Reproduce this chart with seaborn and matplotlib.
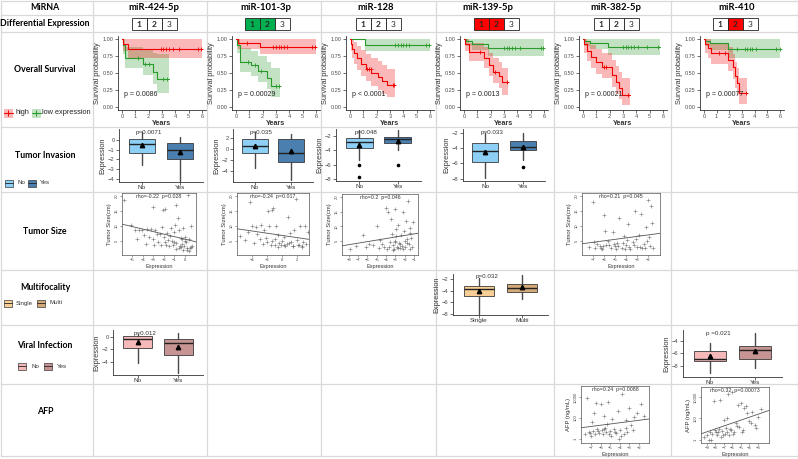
import numpy as np
import matplotlib
matplotlib.use("Agg")
import matplotlib.pyplot as plt
import seaborn as sns
from matplotlib.patches import Rectangle

# ---------------- data ----------------
mirnas = ["miR-424-5p", "miR-101-3p", "miR-128", "miR-139-5p", "miR-382-5p", "miR-410"]
row_labels = ["MiRNA", "Differential Expression", "Overall Survival", "Tumor Invasion",
              "Tumor Size", "Multifocality", "Viral Infection", "AFP"]
diff_marked = [[], [1, 2], [], [1, 2], [], [2]]
diff_sign = [0, -1, 0, 1, 0, 1]

# Kaplan-Meier steps (time, surv, lower, upper) and censor times
km_424_high = dict(t=[0, 0.1, 0.45, 6.0], s=[1, 0.93, 0.86, 0.86],
                   lo=[1, 0.82, 0.73, 0.73], up=[1, 1, 1, 1],
                   cens=[2.9, 3.1, 3.3, 3.5, 3.8, 4.3, 5.7, 5.95])
km_424_low = dict(t=[0, 0.05, 0.25, 1.6, 2.3, 2.6, 3.5], s=[1, 0.91, 0.73, 0.63, 0.52, 0.41, 0.41],
                  lo=[1, 0.78, 0.58, 0.47, 0.33, 0.21, 0.21], up=[1, 1, 0.88, 0.84, 0.8, 0.78, 0.78],
                  cens=[1.2, 1.7, 2.0, 3.1, 3.4])
km_101_high = dict(t=[0, 0.15, 1.8, 6.0], s=[1, 0.95, 0.89, 0.89],
                   lo=[1, 0.86, 0.78, 0.78], up=[1, 1, 1, 1],
                   cens=[0.8, 2.8, 3.0, 3.2, 3.4, 3.6, 3.8, 5.7, 5.95])
km_101_low = dict(t=[0, 0.05, 0.3, 1.15, 1.65, 2.3, 2.6, 3.3], s=[1, 0.92, 0.67, 0.62, 0.53, 0.42, 0.30, 0.30],
                  lo=[1, 0.8, 0.52, 0.46, 0.37, 0.26, 0.15, 0.15], up=[1, 1, 0.87, 0.83, 0.76, 0.66, 0.58, 0.58],
                  cens=[0.9, 1.4, 1.9, 3.0, 3.2])
km_128_high = dict(t=[0, 0.05, 0.15, 0.3, 0.5, 0.8, 1.2, 1.6, 2.1, 2.4, 2.8, 3.4],
                   s=[1, 0.93, 0.86, 0.79, 0.72, 0.64, 0.56, 0.50, 0.44, 0.38, 0.32, 0.32],
                   lo=[1, 0.82, 0.72, 0.63, 0.55, 0.46, 0.38, 0.31, 0.25, 0.19, 0.14, 0.14],
                   up=[1, 1, 1, 0.96, 0.9, 0.84, 0.78, 0.73, 0.68, 0.62, 0.56, 0.56],
                   cens=[1.3, 1.45, 1.55, 3.2, 3.3])
km_128_low = dict(t=[0, 1.1, 6.0], s=[1, 0.92, 0.92], lo=[1, 0.82, 0.82], up=[1, 1, 1],
                  cens=[3.4, 3.6, 3.8, 4.0, 4.2, 4.4, 5.7, 5.95])
km_139_high = dict(t=[0, 0.1, 0.4, 1.5, 1.9, 2.2, 2.6, 2.85, 3.3],
                   s=[1, 0.93, 0.81, 0.72, 0.62, 0.52, 0.45, 0.36, 0.36],
                   lo=[1, 0.82, 0.68, 0.57, 0.46, 0.35, 0.27, 0.17, 0.17],
                   up=[1, 1, 0.95, 0.88, 0.8, 0.72, 0.66, 0.57, 0.57],
                   cens=[1.2, 2.3, 3.2])
km_139_low = dict(t=[0, 0.15, 0.6, 1.8, 6.0], s=[1, 0.97, 0.93, 0.87, 0.87],
                  lo=[1, 0.9, 0.84, 0.75, 0.75], up=[1, 1, 1, 1, 1],
                  cens=[3.0, 3.2, 3.4, 3.6, 3.8, 4.2, 5.8, 5.95])
km_382_high = dict(t=[0, 0.1, 0.3, 0.6, 1.0, 1.4, 2.2, 2.5, 2.7, 2.95, 3.5],
                   s=[1, 0.93, 0.83, 0.74, 0.66, 0.59, 0.47, 0.36, 0.27, 0.18, 0.18],
                   lo=[1, 0.8, 0.68, 0.58, 0.49, 0.42, 0.29, 0.19, 0.11, 0.03, 0.03],
                   up=[1, 1, 0.97, 0.92, 0.86, 0.8, 0.7, 0.6, 0.52, 0.42, 0.42],
                   cens=[1.6, 1.75, 3.35])
km_382_low = dict(t=[0, 0.1, 0.5, 1.9, 5.8], s=[1, 0.97, 0.94, 0.88, 0.88],
                  lo=[1, 0.9, 0.85, 0.77, 0.77], up=[1, 1, 1, 1, 1],
                  cens=[3.0, 3.2, 3.4, 3.6, 3.8, 4.1, 4.8, 5.6])
km_410_high = dict(t=[0, 0.1, 0.3, 0.6, 1.9, 2.3, 2.45, 2.6, 2.8, 3.4],
                   s=[1, 0.93, 0.87, 0.79, 0.70, 0.59, 0.45, 0.35, 0.21, 0.21],
                   lo=[1, 0.8, 0.72, 0.63, 0.53, 0.41, 0.27, 0.17, 0.04, 0.04],
                   up=[1, 1, 1, 0.95, 0.88, 0.78, 0.66, 0.57, 0.43, 0.43],
                   cens=[1.2, 1.7, 3.3])
km_410_low = dict(t=[0, 0.1, 0.5, 1.9, 6.0], s=[1, 0.97, 0.94, 0.85, 0.85],
                  lo=[1, 0.9, 0.84, 0.72, 0.72], up=[1, 1, 1, 1, 1],
                  cens=[2.6, 3.2, 3.4, 3.6, 3.8, 4.1, 5.7, 5.95])
km_high = [km_424_high, km_101_high, km_128_high, km_139_high, km_382_high, km_410_high]
km_low = [km_424_low, km_101_low, km_128_low, km_139_low, km_382_low, km_410_low]
os_pvals = ["p = 0.0086", "p = 0.00029", "p < 0.0001", "p = 0.0013", "p = 0.00021", "p = 0.00077"]

# box summaries: whisker low, q1, median, q3, whisker high, mean, outliers
inv_424 = dict(lo=[-2.6, -4.2], q1=[-1.33, -1.95], med=[-0.43, -1.05], q3=[0.1, -0.35],
               hi=[0.8, 0.3], mean=[-0.55, -1.25], out=[[], []], p="p=0.0071")
inv_101 = dict(lo=[-3.5, -5.6], q1=[-0.7, -2.4], med=[0.55, -0.7], q3=[1.8, 1.8],
               hi=[3.1, 2.7], mean=[0.6, -0.45], out=[[], []], p="p=0.035")
inv_128 = dict(lo=[-5.3, -4.0], q1=[-3.73, -2.93], med=[-2.8, -2.4], q3=[-2.27, -2.13],
               hi=[-1.2, -1.2], mean=[-3.2, -2.67], out=[[-6.1, -7.8], [-6.0]], p="p=0.048")
inv_139 = dict(lo=[-7.9, -5.5], q1=[-5.8, -4.3], med=[-4.4, -3.9], q3=[-3.3, -3.1],
               hi=[-2.0, -2.0], mean=[-4.5, -3.8], out=[[], [-6.5]], p="p=0.033")
multi_139 = dict(lo=[-8.0, -5.4], q1=[-5.0, -4.2], med=[-3.8, -3.5], q3=[-3.2, -2.8],
                 hi=[-1.8, -1.3], mean=[-4.0, -3.4], out=[[], []], p="p=0.032")
viral_424 = dict(lo=[-4.2, -5.8], q1=[-1.8, -2.9], med=[-0.4, -0.9], q3=[0.1, -0.4],
                 hi=[0.5, 0.7], mean=[-0.8, -1.6], out=[[], []], p="p=0.012")
viral_410 = dict(lo=[-9.2, -8.4], q1=[-7.2, -6.9], med=[-6.9, -5.5], q3=[-5.6, -4.8],
                 hi=[-4.3, -2.7], mean=[-6.5, -5.6], out=[[], []], p="p =0.021")
yes_no = ["No", "Yes"]
focality = ["Single", "Multi"]

# tumor size (cm) vs expression
ts_424_x = [-5.8, -5.1, -4.7, -4.5, -4.3, -4.1, -3.9, -3.7, -3.6, -3.4, -3.2, -3.0, -3.0, -2.9, -2.8,
            -2.6, -2.5, -2.4, -2.3, -2.2, -2.1, -2.0, -1.9, -1.9, -1.8, -1.7, -1.6, -1.5, -1.4, -1.3,
            -1.2, -1.1, -1.0, -0.9, -0.8, -0.8, -0.7, -0.6, -0.5, -0.4, -0.3, -0.2, -0.1, 0.0, 0.1,
            0.2, 0.3, 0.4, 0.5, 0.6, 0.7, -0.6, -0.4, -0.2, 0.0, 0.2, 0.4, 0.6, -1.0, -0.8, -0.3]
ts_424_y = [18.5, 10.2, 8.5, 5.5, 8.6, 8.5, 7.0, 4.0, 9.0, 6.2, 9.1, 16.2, 5.5, 3.6, 8.8,
            7.3, 4.6, 7.2, 3.5, 9.8, 15.3, 6.3, 15.6, 4.8, 3.8, 7.8, 5.2, 3.3, 6.5, 9.2,
            4.9, 3.7, 7.9, 10.2, 17.0, 4.4, 12.8, 8.8, 3.4, 6.1, 4.1, 9.2, 3.2, 6.4, 4.6,
            2.0, 20.3, 5.6, 2.8, 10.0, 3.3, 2.5, 3.0, 2.1, 4.9, 2.6, 1.8, 2.9, 4.6, 2.2, 5.8]
ts_101_x = [-5.6, -5.0, -4.6, -4.3, -4.0, -3.8, -3.5, -3.3, -3.0, -2.8, -2.6, -2.4, -2.2, -2.0, -1.9,
            -1.7, -1.5, -1.3, -1.2, -1.0, -0.8, -0.6, -0.4, -0.2, 0.0, 0.2, 0.4, 0.6, 0.8, 1.0,
            1.2, 1.4, 1.6, 1.8, 2.0, 2.2, 2.4, 2.6, 2.8, 3.0, 3.2, 3.4, -1.4, -0.9, -0.5, 0.3,
            0.9, 1.5, 2.1, 2.7]
ts_101_y = [6.8, 5.2, 8.0, 18.1, 10.0, 4.4, 9.8, 7.2, 5.6, 10.2, 4.1, 8.5, 6.0, 4.8, 15.1,
            10.0, 3.8, 15.4, 16.0, 5.5, 9.9, 7.1, 4.2, 3.6, 5.0, 6.4, 3.3, 4.0, 13.0, 7.5,
            4.6, 3.4, 8.8, 19.0, 5.4, 3.8, 10.0, 3.2, 4.5, 10.0, 3.9, 8.0, 4.9, 3.5, 3.1, 3.7,
            4.3, 3.2, 3.5, 3.0]
ts_128_x = [-7.8, -7.2, -6.5, -6.1, -5.8, -5.4, -5.0, -4.8, -4.6, -4.4, -4.2, -4.0, -3.9, -3.8, -3.6,
            -3.5, -3.4, -3.3, -3.2, -3.1, -3.0, -2.9, -2.8, -2.7, -2.6, -2.5, -2.4, -2.3, -2.2, -2.1,
            -2.0, -1.9, -1.8, -1.7, -1.6, -1.5, -1.4, -1.3, -1.2, -1.1, -3.7, -3.3, -2.9, -2.5,
            -2.2, -1.8, -1.5, -2.7, -3.1, -2.0]
ts_128_y = [2.2, 3.5, 7.0, 3.0, 4.2, 3.6, 10.0, 2.8, 5.5, 4.0, 3.2, 16.2, 2.5, 15.0, 4.8,
            12.5, 7.4, 3.8, 2.3, 5.2, 16.0, 9.0, 3.0, 10.5, 4.5, 2.6, 7.2, 3.4, 14.8, 8.5,
            2.9, 12.0, 5.6, 18.5, 4.0, 9.4, 2.4, 6.0, 3.2, 11.5, 3.0, 2.1, 6.6, 3.9,
            2.2, 4.4, 7.8, 2.7, 4.9, 5.0]
ts_382_x = [-7.4, -7.0, -6.8, -6.6, -6.4, -6.2, -6.0, -5.8, -5.6, -5.4, -5.2, -5.0, -4.8, -4.6, -4.4,
            -4.2, -4.0, -3.8, -3.6, -3.4, -3.2, -3.0, -2.8, -2.6, -2.4, -2.2, -2.0, -1.8, -1.6, -1.5,
            -6.9, -6.3, -5.5, -4.9, -4.3, -3.7, -3.1, -2.5, -1.9, -5.9, -4.1, -3.3, -2.7, -2.1,
            -1.7, -4.7, -3.9, -2.3, -6.1, -5.1]
ts_382_y = [3.0, 18.0, 2.5, 4.0, 3.2, 2.2, 13.5, 3.8, 5.0, 2.6, 8.0, 3.4, 4.2, 12.5, 2.8,
            6.5, 3.6, 10.5, 2.4, 4.8, 15.0, 3.0, 7.0, 14.0, 4.0, 9.5, 18.5, 3.2, 11.0, 2.8,
            4.6, 2.8, 3.5, 2.2, 4.4, 3.1, 5.6, 2.5, 6.2, 8.4, 2.3, 3.7, 3.0, 4.9,
            16.5, 3.2, 5.2, 2.6, 3.4, 4.0]
ts_labels = ["rho=-0.22  p=0.028", "rho=-0.24  p=0.017", "rho=0.2  p=0.046", "rho=0.21  p=0.045"]

# AFP (ng/mL) vs expression
afp_382_x = [-7.6, -7.4, -7.2, -7.0, -6.9, -6.8, -6.6, -6.5, -6.4, -6.2, -6.0, -5.9, -5.8, -5.6, -5.5,
             -5.4, -5.2, -5.0, -4.9, -4.8, -4.6, -4.4, -4.2, -4.0, -3.8, -3.6, -3.4, -3.2, -3.0, -2.8,
             -2.5, -2.2, -1.8, -1.5, -7.1, -6.3, -5.7, -5.1, -4.5, -3.9, -3.3, -2.6, -6.7, -5.3, -4.1]
afp_382_y = [3, 8000, 5, 2, 40, 6, 3, 3000, 10, 4, 2000, 7, 3, 150, 12,
             5, 3500, 6, 2, 80, 9, 4, 500, 8, 20000, 3, 60, 5, 900, 20,
             120, 300, 2000, 150, 4, 6, 9, 3, 5, 2, 12, 7, 300, 25, 1]
afp_410_x = [-9.3, -9.0, -8.8, -8.6, -8.4, -8.2, -8.0, -7.9, -7.8, -7.6, -7.5, -7.4, -7.2, -7.0, -6.9,
             -6.8, -6.6, -6.5, -6.4, -6.2, -6.0, -5.8, -5.6, -5.4, -5.2, -5.0, -4.8, -4.6, -4.3, -4.0,
             -3.7, -3.4, -3.0, -2.6, -8.5, -7.7, -7.1, -6.7, -6.3, -5.9, -5.5, -4.9, -4.4, -3.8, -3.2]
afp_410_y = [2, 3, 1, 5, 4, 4000, 8, 6, 3, 10, 5000, 2, 7, 80, 4,
             12, 5, 20000, 3, 9, 30000, 6, 40, 2000, 15, 3000, 8, 900, 300, 60,
             400, 25, 150, 800, 1, 6, 3, 100, 10, 4, 20, 6, 1500, 35, 12]
afp_labels = ["rho=0.24  p=0.0088", "rho=0.32  p=0.00073"]

# ---------------- styling ----------------
sns.set_theme(style="ticks")
plt.rcParams["font.family"] = ["Liberation Sans", "DejaVu Sans"]
plt.rcParams["axes.linewidth"] = 0.6

W, H = 798, 459
RED, GREEN = "#f00000", "#2a9a2a"
GRID = "#d9d9d9"
TXT = "#4d4d4d"

fig = plt.figure(figsize=(W / 100, H / 100), dpi=100)
bg = fig.add_axes([0, 0, 1, 1])
bg.set_xlim(0, W)
bg.set_ylim(H, 0)
bg.axis("off")


def place(l, t, r, b):
    return fig.add_axes([l / W, 1 - b / H, (r - l) / W, (b - t) / H])


# table grid
col_edges = [93, 207, 321, 436, 554, 671]
row_edges = [15, 32, 127, 192, 270, 325, 384, 456]
for y in row_edges:
    bg.plot([0.5, 797.5], [y, y], color=GRID, lw=0.9)
bg.plot([0.5, 797.5], [0.5, 0.5], color=GRID, lw=0.9)
for x in col_edges + [0.5, 797.5]:
    bg.plot([x, x], [0.5, 456], color=GRID, lw=0.9)

lab_font = dict(family=["Lato", "DejaVu Sans"], fontweight="bold", color="black")
row_y = [7.5, 23.5, 69, 156, 231, 287, 345, 412]
for lab, y in zip(row_labels, row_y):
    bg.text(45, y, lab, ha="center", va="center", fontsize=6.3, **lab_font)

header_x = [154, 266, 376, 488, 616, 737]
box_x = [154, 267, 378, 496, 616, 735]
for i, name in enumerate(mirnas):
    bg.text(header_x[i], 7.5, name, ha="center", va="center", fontsize=6.8, **lab_font)
    for k in range(3):
        num = k + 1
        face = "white"
        if num in diff_marked[i]:
            face = "#00b050" if diff_sign[i] < 0 else "#ff0000"
        x0 = box_x[i] - 22.5 + 15 * k
        bg.add_patch(Rectangle((x0, 18), 15, 12, facecolor=face, edgecolor="#222222", lw=0.6))
        bg.text(x0 + 7.5, 24.3, str(num), ha="center", va="center", fontsize=6,
                family=["Lato", "DejaVu Sans"], fontweight="bold" if num < 3 else "normal")


# ---------------- helpers ----------------
def style_axis(ax, ylabel, fs=4.2):
    sns.despine(ax=ax)
    for s in ("left", "bottom"):
        ax.spines[s].set_color("#333333")
        ax.spines[s].set_linewidth(0.6)
    ax.tick_params(labelsize=fs, length=2, width=0.5, pad=1, colors="#333333", labelcolor=TXT)
    ax.set_ylabel(ylabel, fontsize=5.3, labelpad=1.5, color="#333333")
    ax.set_xlabel("")
    ax.patch.set_alpha(0)


def step_value(km, times):
    idx = np.searchsorted(km["t"], times, side="right") - 1
    return np.array(km["s"])[idx]


def draw_km(ax, high, low, ptext):
    for km, c in ((low, GREEN), (high, RED)):
        ax.fill_between(km["t"], km["lo"], km["up"], step="post", color=c, alpha=0.28, lw=0)
    for km, c in ((low, GREEN), (high, RED)):
        sns.lineplot(x=km["t"], y=km["s"], drawstyle="steps-post", color=c, lw=0.8,
                     errorbar=None, ax=ax)
        sns.scatterplot(x=km["cens"], y=step_value(km, km["cens"]), marker="+", color=c,
                        s=9, linewidth=0.6, ax=ax)
    ax.set_xlim(-0.3, 6.3)
    ax.set_ylim(-0.05, 1.05)
    ax.set_xticks(range(7))
    ax.set_yticks([0, 0.25, 0.5, 0.75, 1.0])
    ax.set_yticklabels(["0.00", "0.25", "0.50", "0.75", "1.00"])
    style_axis(ax, "Survival probability", fs=4)
    ax.set_xlabel("Years", fontsize=5.2, fontweight="bold", labelpad=0.5, color="#333333")
    ax.text(0.15, 0.18, ptext, fontsize=5, ha="left", va="center", color="#222222")


def draw_box(ax, b, labels, colors, ylim, yticks):
    pos = [0, 1]
    stats = [dict(label=labels[i], whislo=b["lo"][i], q1=b["q1"][i], med=b["med"][i],
                  q3=b["q3"][i], whishi=b["hi"][i], mean=b["mean"][i], fliers=b["out"][i])
             for i in range(2)]
    bp = ax.bxp(stats, positions=pos, widths=0.7, patch_artist=True, showmeans=True,
                showcaps=False,
                meanprops=dict(marker="^", markerfacecolor="black", markeredgecolor="black",
                               markersize=3.2),
                medianprops=dict(color="#222222", lw=1.0),
                boxprops=dict(edgecolor="#3a3a3a", lw=0.6),
                flierprops=dict(marker="o", markersize=1.6, markerfacecolor="black",
                                markeredgecolor="black"))
    for patch, c in zip(bp["boxes"], colors):
        patch.set_facecolor(c)
        patch.set_zorder(3)
    for line in bp["whiskers"]:
        line.set_color("#4a4a4a")
        line.set_linewidth(1.0)
        line.set_linestyle("-")
        line.set_alpha(1)
        line.set_visible(True)
        line.set_zorder(2.6)
    for line in bp["medians"] + bp["means"]:
        line.set_zorder(4)
    ax.set_xlim(-0.6, 1.6)
    ax.set_ylim(*ylim)
    ax.set_yticks(yticks)
    style_axis(ax, "Expression")
    ax.tick_params(axis="x", labelsize=4.6, labelcolor="#333333", pad=0.5)
    ax.text(0.18, ylim[0] + 0.93 * (ylim[1] - ylim[0]), b["p"], fontsize=4.5,
            ha="center", va="center", color="#333333", zorder=5)


def draw_scatter(ax, x, y, xlim, ylim, xticks, yticks, yticklabels, ylabel, label):
    ax.set_xlim(*xlim)
    ax.set_ylim(*ylim)
    sns.regplot(x=np.array(x, float), y=np.array(y, float), ci=None, truncate=False,
                marker="+", color="#666666",
                scatter_kws=dict(s=5, linewidths=0.45),
                line_kws=dict(color="#555555", lw=0.6), ax=ax)
    ax.set_xlim(*xlim)
    ax.set_ylim(*ylim)
    ax.set_xticks(xticks)
    ax.set_yticks(yticks)
    ax.set_yticklabels(yticklabels, rotation=90, va="center")
    for s in ax.spines.values():
        s.set_visible(True)
        s.set_color("#555555")
        s.set_linewidth(0.5)
    ax.tick_params(labelsize=3, length=1.5, width=0.4, pad=1, colors="#555555", labelcolor="#444444")
    ax.set_xlabel("Expression", fontsize=4, labelpad=1, color="#333333")
    ax.set_ylabel(ylabel, fontsize=4.2, labelpad=1.5, color="#333333")
    ax.text(0.5, 0.99, label, transform=ax.transAxes, ha="center", va="top",
            fontsize=3.8, color="#333333")


# ---------------- overall survival row ----------------
surv_pos = [(118, 206), (232, 320), (346, 434), (460, 548), (579, 667), (700, 784)]
for i, (l, r) in enumerate(surv_pos):
    draw_km(place(l, 36, r, 110), km_high[i], km_low[i], os_pvals[i])

# survival legend
bg.add_patch(Rectangle((3.5, 108.5), 9, 9, facecolor=RED, alpha=0.28, lw=0))
bg.plot([3.5, 12.5], [113, 113], color=RED, lw=0.8)
bg.plot([8], [113], marker="+", color=RED, markersize=4, mew=0.7)
bg.text(15, 113, "high", fontsize=5.3, va="center", color="#222222")
bg.add_patch(Rectangle((31.5, 108.5), 9, 9, facecolor=GREEN, alpha=0.28, lw=0))
bg.plot([31.5, 40.5], [113, 113], color=GREEN, lw=0.8)
bg.plot([36], [113], marker="+", color=GREEN, markersize=4, mew=0.7)
bg.text(42, 113, "low expression", fontsize=5.3, va="center", color="#222222")


def box_key(x, y, c, text, gap=4):
    bg.add_patch(Rectangle((x, y - 3.5), 8, 7, facecolor=c, edgecolor="#3a3a3a", lw=0.5))
    bg.plot([x, x + 8], [y, y], color="#222222", lw=0.6)
    bg.text(x + 8 + gap, y, text, fontsize=4.4, va="center", color="#333333")


# ---------------- tumor invasion ----------------
inv_colors = ["#8ecff5", "#4a7fb0"]
draw_box(place(119, 129, 203, 182), inv_424, yes_no, inv_colors, (-4.3, 1.1), [0, -1, -2, -3, -4])
draw_box(place(233, 129, 313, 182), inv_101, yes_no, inv_colors, (-6.0, 3.6), [2, 0, -2, -4])
draw_box(place(336, 129, 421, 181), inv_128, yes_no, inv_colors, (-8.3, -1.0), [-2, -4, -6, -8])
draw_box(place(463, 129, 545, 181), inv_139, yes_no, inv_colors, (-8.3, -1.5), [-2, -4, -6, -8])
box_key(5, 183, inv_colors[0], "No")
box_key(28, 183, inv_colors[1], "Yes")

# ---------------- tumor size ----------------
ts_ticks = [5, 10, 15, 20]
draw_scatter(place(122, 193, 196, 255), ts_424_x, ts_424_y, (-5.95, 1.05), (0.33, 21),
             [-5, -4, -3, -2, -1, 0], ts_ticks, ts_ticks, "Tumor Size(cm)", ts_labels[0])
draw_scatter(place(237, 193, 309, 255), ts_101_x, ts_101_y, (-6.0, 3.6), (0.33, 21),
             [-4, -2, 0, 2], ts_ticks, ts_ticks, "Tumor Size(cm)", ts_labels[1])
draw_scatter(place(342, 194, 418, 255), ts_128_x, ts_128_y, (-8.7, -0.6), (0.33, 21),
             [-8, -7, -6, -5, -4, -3, -2, -1], ts_ticks, ts_ticks, "Tumor Size(cm)", ts_labels[2])
draw_scatter(place(582, 193, 660, 255), ts_382_x, ts_382_y, (-8.0, -0.9), (0.33, 21),
             [-7, -6, -5, -4, -3, -2], ts_ticks, ts_ticks, "Tumor Size(cm)", ts_labels[3])

# ---------------- multifocality ----------------
multi_colors = ["#f9cf96", "#d3a97a"]
draw_box(place(453, 274, 548, 315), multi_139, focality, multi_colors, (-8.2, -1.15), [-2, -4, -6, -8])
box_key(4, 303, multi_colors[0], "Single")
box_key(37, 303, multi_colors[1], "Multi")

# ---------------- viral infection ----------------
viral_colors = ["#f6b9b9", "#c79494"]
draw_box(place(113, 330, 203, 375), viral_424, yes_no, viral_colors, (-6.1, 1.1), [0, -2, -4])
draw_box(place(683, 330, 782, 377), viral_410, yes_no, viral_colors, (-9.8, -2.25), [-4, -6, -8])
box_key(18, 366, viral_colors[0], "No", gap=5)
box_key(44, 366, viral_colors[1], "Yes", gap=5)

# ---------------- AFP (log10 scale) ----------------
afp_ticks = [0, 2, 4]
afp_ticklabels = ["1", "100", "10000"]
draw_scatter(place(581, 386, 649, 443), afp_382_x, np.log10(afp_382_y), (-8.05, -0.95), (-0.38, 5.05),
             [-7, -6, -5, -4, -3, -2], afp_ticks, afp_ticklabels, "AFP (ng/mL)", afp_labels[0])
draw_scatter(place(701, 387, 769, 443), afp_410_x, np.log10(afp_410_y), (-9.7, -1.7), (-0.28, 4.93),
             [-9, -8, -7, -6, -5, -4, -3], afp_ticks, afp_ticklabels, "AFP (ng/mL)", afp_labels[1])

fig.savefig("out.png", dpi=100)
